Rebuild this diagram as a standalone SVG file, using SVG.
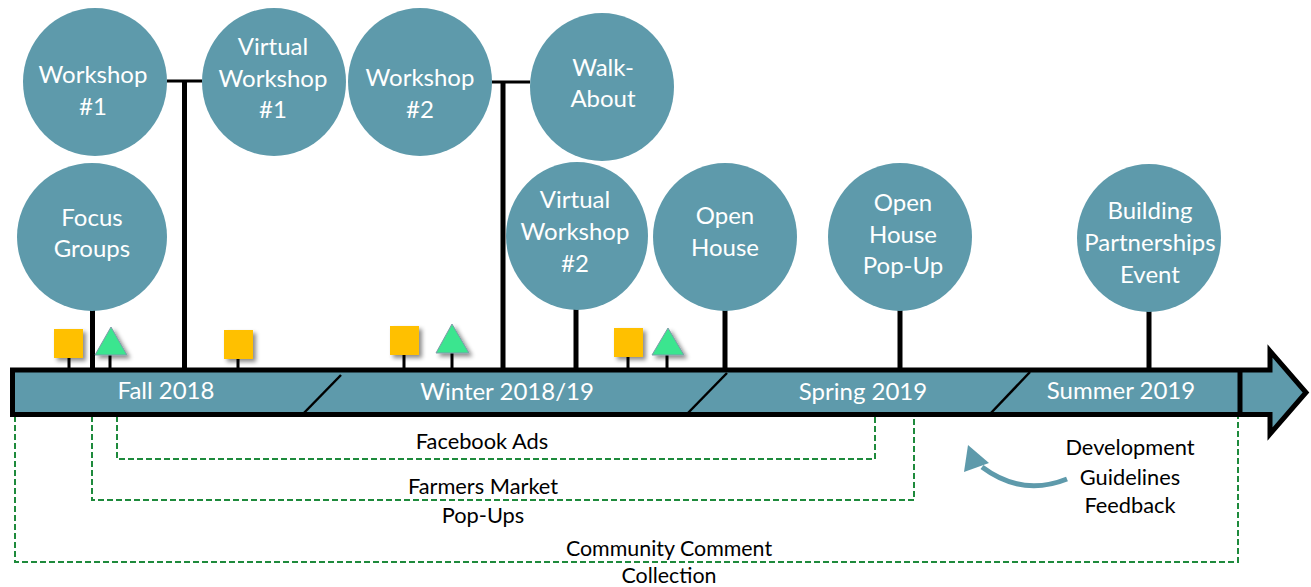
<svg xmlns="http://www.w3.org/2000/svg" width="1311" height="587" viewBox="0 0 1311 587">
<defs>
<filter id="sh" x="-30%" y="-30%" width="180%" height="180%">
<feDropShadow dx="3" dy="3" stdDeviation="2" flood-color="#000" flood-opacity="0.45"/>
</filter>
<style>
.c{fill:#5e9aab}
.ct{font-family:Lato,"Liberation Sans",sans-serif;font-size:24px;fill:#fff;text-anchor:middle}
.st{stroke:#000;stroke-width:5;fill:none}
.sm{stroke:#000;stroke-width:3;fill:none}
.hc{stroke:#000;stroke-width:3;fill:none}
.dg{stroke:#000;stroke-width:2.5}
.ds{stroke:#1e8a3c;stroke-width:2;stroke-dasharray:6 3;fill:none}
.lb{font-family:Lato,"Liberation Sans",sans-serif;font-size:21.8px;fill:#000;text-anchor:middle}
.lbs{font-size:21.4px}
.sq{fill:#ffc000;filter:url(#sh)}
.tr{fill:#3be58f;stroke:#7f9aa8;stroke-width:1;filter:url(#sh)}
</style>
</defs>
<rect width="1311" height="587" fill="#fff"/>
<g id="connectors">
<path class="hc" d="M167,81 H202"/>
<path class="hc" d="M492,82 H530"/>
<path class="st" d="M184.5,81 V370"/>
<path class="st" d="M503,82 V370"/>
<path class="st" d="M92.5,310 V370"/>
<path class="st" d="M576,308 V370"/>
<path class="st" d="M725,309 V370"/>
<path class="st" d="M900,309 V370"/>
<path class="st" d="M1149,310 V370"/>
<path class="sm" d="M69,357 V370 M110,354 V370 M238,358 V370 M404,354 V370 M452,352 V370 M628,356 V370 M667,354 V370"/>
<path class="ds" d="M117,416 V459 H875 V416"/>
<path class="ds" d="M92,416 V500 H914 V416"/>
<path class="ds" d="M15,416 V562 H1238 V416"/>
<path d="M1067,479 Q1022,497 982,467" stroke="#5e9aab" stroke-width="5" fill="none"/>
<polygon points="968,445 964,472 989,463" fill="#5e9aab"/>
</g>
<g id="timeline">
<path d="M12.5,370 H1270 V351 L1306,392.5 L1270,434 V414.5 H12.5 Z" fill="#5e9aab" stroke="#000" stroke-width="5" stroke-linejoin="miter"/>
<path d="M1240,370 V414.5" stroke="#000" stroke-width="5"/>
<line class="dg" x1="341" y1="375" x2="301" y2="416"/>
<line class="dg" x1="727" y1="373" x2="687" y2="414"/>
<line class="dg" x1="1030" y1="372" x2="990" y2="414"/>
<text class="ct" x="166" y="399">Fall 2018</text>
<text class="ct" x="507" y="400">Winter 2018/19</text>
<text class="ct" x="863" y="400">Spring 2019</text>
<text class="ct" x="1121" y="399">Summer 2019</text>
</g>
<g id="markers">
<rect class="sq" x="54" y="329" width="29" height="29"/>
<rect class="sq" x="224" y="330" width="29" height="29"/>
<rect class="sq" x="390" y="326" width="29" height="29"/>
<rect class="sq" x="614" y="328" width="29" height="29"/>
<polygon class="tr" points="111,327 95,355 127,355"/>
<polygon class="tr" points="452,324 436,353 469,353"/>
<polygon class="tr" points="668,328 652,355 684,355"/>
</g>
<g id="n-workshop1"><ellipse class="c" cx="95" cy="82" rx="72" ry="74"/><text class="ct" x="93" y="83">Workshop</text><text class="ct" x="93" y="115">#1</text></g>
<g id="n-vworkshop1"><ellipse class="c" cx="274" cy="82" rx="72" ry="74"/><text class="ct" x="273" y="55">Virtual</text><text class="ct" x="273" y="87">Workshop</text><text class="ct" x="273" y="118">#1</text></g>
<g id="n-focus"><ellipse class="c" cx="92" cy="237" rx="75" ry="74"/><text class="ct" x="92" y="226">Focus</text><text class="ct" x="92" y="257">Groups</text></g>
<g id="n-workshop2"><ellipse class="c" cx="420" cy="82" rx="72" ry="74"/><text class="ct" x="420" y="86">Workshop</text><text class="ct" x="420" y="118">#2</text></g>
<g id="n-walkabout"><ellipse class="c" cx="602" cy="87" rx="72" ry="74"/><text class="ct" x="603" y="76">Walk-</text><text class="ct" x="603" y="107">About</text></g>
<g id="n-vworkshop2"><ellipse class="c" cx="577" cy="236" rx="71" ry="74"/><text class="ct" x="575" y="208">Virtual</text><text class="ct" x="575" y="240">Workshop</text><text class="ct" x="575" y="272">#2</text></g>
<g id="n-openhouse"><ellipse class="c" cx="725" cy="237" rx="72" ry="74"/><text class="ct" x="725" y="224">Open</text><text class="ct" x="725" y="256">House</text></g>
<g id="n-openpopup"><ellipse class="c" cx="900" cy="237" rx="72" ry="74"/><text class="ct" x="903" y="211">Open</text><text class="ct" x="903" y="243">House</text><text class="ct" x="903" y="274">Pop-Up</text></g>
<g id="n-building"><ellipse class="c" cx="1149" cy="238" rx="72" ry="74"/><text class="ct" x="1150" y="219">Building</text><text class="ct" x="1150" y="251">Partnerships</text><text class="ct" x="1150" y="283">Event</text></g>
<g id="labels">
<text class="lb" x="482" y="449">Facebook Ads</text>
<text class="lb" x="483" y="494">Farmers Market</text>
<text class="lb" x="483" y="523">Pop-Ups</text>
<text class="lb lbs" x="669" y="556">Community Comment</text>
<text class="lb lbs" x="669" y="582.5">Collection</text>
<text class="lb" x="1130" y="455">Development</text>
<text class="lb" x="1130" y="485">Guidelines</text>
<text class="lb" x="1130" y="513">Feedback</text>
</g>
</svg>
